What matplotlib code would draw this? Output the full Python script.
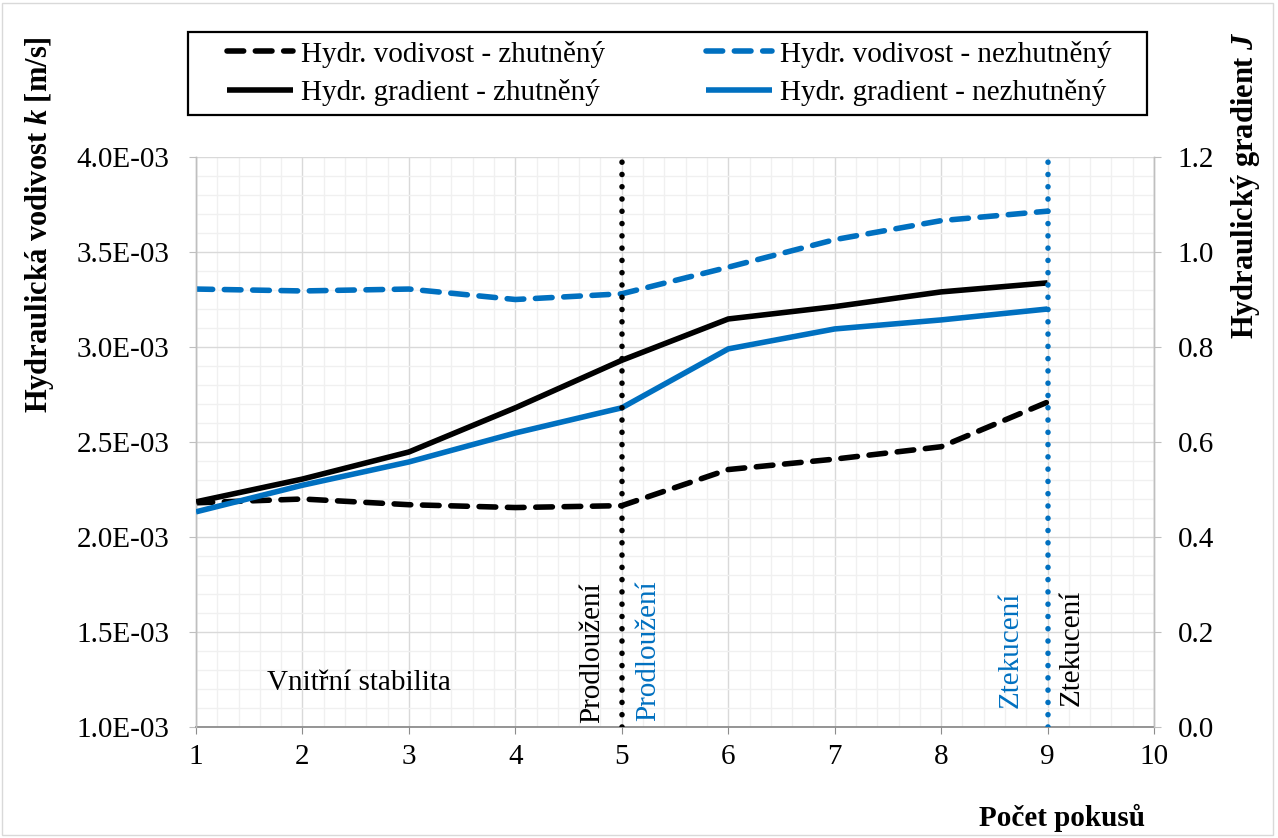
import matplotlib
matplotlib.use("Agg")
import matplotlib.pyplot as plt
from matplotlib.ticker import MultipleLocator, FuncFormatter
from matplotlib.patches import Rectangle

# ---------------- data ----------------
pokusy = [1, 2, 3, 4, 5, 6, 7, 8, 9]
k_zhutneny = [2.18e-3, 2.20e-3, 2.17e-3, 2.155e-3, 2.165e-3, 2.355e-3, 2.41e-3, 2.475e-3, 2.71e-3]
k_nezhutneny = [3.305e-3, 3.295e-3, 3.305e-3, 3.25e-3, 3.28e-3, 3.42e-3, 3.565e-3, 3.665e-3, 3.715e-3]
J_zhutneny = [0.474, 0.522, 0.579, 0.672, 0.772, 0.859, 0.885, 0.916, 0.935]
J_nezhutneny = [0.453, 0.509, 0.558, 0.619, 0.672, 0.796, 0.838, 0.857, 0.880]
x_ticks = [1, 2, 3, 4, 5, 6, 7, 8, 9, 10]
x_prodlouzeni = 5
x_ztekuceni = 9

labels = ["Hydr. vodivost - zhutněný", "Hydr. gradient - zhutněný",
          "Hydr. vodivost - nezhutněný", "Hydr. gradient - nezhutněný"]

# ---------------- style ----------------
plt.rcParams['font.family'] = ['Liberation Serif', 'DejaVu Serif']
plt.rcParams['mathtext.fontset'] = 'custom'
plt.rcParams['mathtext.it'] = 'Liberation Serif:italic:bold'
plt.rcParams['mathtext.rm'] = 'Liberation Serif:bold'

BLUE = '#0070C0'
FS = 21
W, H = 1278, 838

fig = plt.figure(figsize=(W / 100, H / 100), dpi=100)
ax = fig.add_axes([196 / W, 1 - 727 / H, (1154 - 196) / W, (727 - 157) / H])
ax2 = ax.twinx()

# grid
ax.set_xlim(1, 10)
ax.set_ylim(1.0e-3, 4.0e-3)
ax.xaxis.set_major_locator(MultipleLocator(1))
ax.xaxis.set_minor_locator(MultipleLocator(0.2))
ax.yaxis.set_major_locator(MultipleLocator(0.5e-3))
ax.yaxis.set_minor_locator(MultipleLocator(0.1e-3))
ax.grid(True, which='major', color='#D9D9D9', lw=1.0, zorder=0)
ax.grid(True, which='minor', color='#F0F0F0', lw=1.0, zorder=0)
ax.set_axisbelow(True)
ax.set_xticks(x_ticks)
ax.yaxis.set_major_formatter(FuncFormatter(lambda v, p: f"{v*1e3:.1f}E-03"))

ax2.set_ylim(0, 1.2)
ax2.yaxis.set_major_locator(MultipleLocator(0.2))
ax2.yaxis.set_major_formatter(FuncFormatter(lambda v, p: f"{v:.1f}"))

for a in (ax, ax2):
    for s in a.spines.values():
        s.set_color('#BFBFBF')
        s.set_linewidth(1.0)
    a.spines['top'].set_visible(False)
ax.spines['bottom'].set_color('#8C8C8C')
ax.spines['bottom'].set_linewidth(1.3)
ax2.spines['bottom'].set_visible(False)

ax.tick_params(axis='x', which='major', length=5, color='#8C8C8C', labelsize=FS, pad=7)
ax.tick_params(axis='y', which='major', length=5, color='#BFBFBF', labelsize=FS, pad=14)
ax.tick_params(which='minor', length=0)
ax2.tick_params(axis='y', which='major', length=5, color='#BFBFBF', labelsize=FS, pad=12)
ax2.tick_params(which='minor', length=0)

# data lines
dash = (0, (3.0, 2.1))
lw = 4.0
l1, = ax.plot(pokusy, k_zhutneny, color='black', lw=lw, ls=dash, dash_capstyle='round', zorder=3)
l3, = ax.plot(pokusy, k_nezhutneny, color=BLUE, lw=lw, ls=dash, dash_capstyle='round', zorder=3)
l2, = ax2.plot(pokusy, J_zhutneny, color='black', lw=lw, solid_capstyle='butt', zorder=3)
l4, = ax2.plot(pokusy, J_nezhutneny, color=BLUE, lw=lw, solid_capstyle='butt', zorder=3)

# vertical dotted markers
dot = (0, (0.01, 2.2))
ax2.axvline(x_prodlouzeni, color='black', lw=4.0, ls=dot, dash_capstyle='round', zorder=5)
ax2.axvline(x_ztekuceni, color=BLUE, lw=4.0, ls=dot, dash_capstyle='round', zorder=5)

# annotations
ax.text(4.72, 1.02e-3, "Prodloužení", rotation=90, ha='center', va='bottom', fontsize=FS, color='black')
ax.text(5.25, 1.03e-3, "Prodloužení", rotation=90, ha='center', va='bottom', fontsize=FS, color=BLUE)
ax.text(8.65, 1.10e-3, "Ztekucení", rotation=90, ha='center', va='bottom', fontsize=FS, color=BLUE)
ax.text(9.23, 1.11e-3, "Ztekucení", rotation=90, ha='center', va='bottom', fontsize=FS, color='black')
ax.text(2.53, 1.23e-3, "Vnitřní stabilita", ha='center', va='center', fontsize=FS, color='black')

# axis labels
fig.text(40 / W, 1 - 225 / H, r"Hydraulická vodivost $k$ [m/s]", rotation=90,
         ha='center', va='center', fontsize=FS + 1, fontweight='bold')
fig.text(1245 / W, 1 - 185 / H, r"Hydraulický gradient $J$", rotation=90,
         ha='center', va='center', fontsize=FS + 1, fontweight='bold')
fig.text(1062 / W, 1 - 818 / H, "Počet pokusů", ha='center', va='center',
         fontsize=FS, fontweight='bold')

# legend
fig.patches.append(Rectangle((188 / W, 1 - 115 / H), (1147 - 188) / W, (115 - 32) / H,
                             transform=fig.transFigure, fill=False, edgecolor='black',
                             lw=1.6, zorder=10))
leg = fig.legend([l1, l2, l3, l4], labels, loc='center left',
                 bbox_to_anchor=(227 / W, 1 - 73.5 / H), ncol=2, frameon=False,
                 fontsize=FS, handlelength=2.25, handletextpad=0.3,
                 columnspacing=3.45, labelspacing=0.4, borderpad=0, borderaxespad=0)

# outer frame
fig.patches.append(Rectangle((2 / W, 3 / H), (1273 - 2) / W, (835 - 3) / H,
                             transform=fig.transFigure, fill=False, edgecolor='#D9D9D9',
                             lw=1.0, zorder=0))

fig.savefig("out.png", dpi=100)
